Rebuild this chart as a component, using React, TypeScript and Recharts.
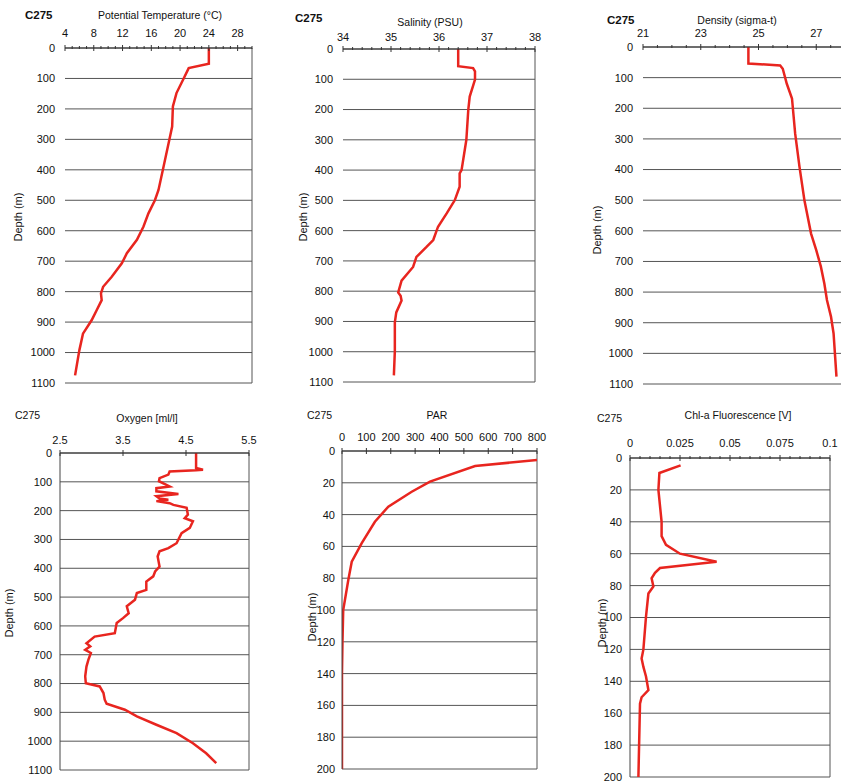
import React from "react";
import { LineChart, Line, XAxis, YAxis, CartesianGrid, ReferenceLine } from "recharts";

// station C275 profiles
const tempDepth = [0, 52, 66, 100, 148, 192, 258, 302, 390, 466, 500, 543, 587, 630, 674, 707, 751, 784, 806, 828, 861, 894, 938, 992, 1075];
const tempValue = [24.0, 24.0, 21.2, 20.5, 19.5, 19.0, 18.9, 18.5, 17.7, 17.0, 16.5, 15.6, 14.9, 14.0, 12.6, 11.9, 10.5, 9.3, 9.0, 9.1, 8.4, 7.7, 6.5, 6.0, 5.4];

const salDepth = [0, 57, 63, 74, 101, 157, 201, 300, 400, 411, 455, 499, 543, 587, 631, 654, 687, 720, 765, 804, 815, 831, 870, 903, 998, 1078];
const salValue = [36.4, 36.4, 36.71, 36.75, 36.75, 36.64, 36.61, 36.57, 36.47, 36.43, 36.43, 36.33, 36.16, 35.98, 35.88, 35.74, 35.53, 35.46, 35.22, 35.15, 35.2, 35.22, 35.11, 35.08, 35.08, 35.06];

const denDepth = [0, 54, 60, 71, 120, 168, 283, 391, 500, 609, 663, 717, 772, 826, 880, 935, 1076];
const denValue = [24.65, 24.65, 25.75, 25.84, 25.98, 26.16, 26.27, 26.42, 26.59, 26.82, 27.0, 27.16, 27.28, 27.37, 27.51, 27.6, 27.7];

const oxyDepth = [0, 52, 58, 60, 64, 75, 87, 98, 116, 122, 133, 142, 150, 158, 162, 167, 174, 180, 190, 214, 226, 237, 260, 278, 313, 330, 341, 359, 394, 411, 428, 446, 475, 486, 509, 532, 556, 573, 590, 625, 637, 660, 671, 683, 694, 718, 741, 775, 799, 810, 833, 856, 870, 891, 914, 943, 972, 1007, 1042, 1076];
const oxyValue = [4.66, 4.66, 4.77, 4.66, 4.24, 4.22, 4.08, 4.07, 4.24, 4.03, 4.03, 4.38, 4.03, 4.08, 4.22, 4.03, 4.24, 4.3, 4.51, 4.53, 4.48, 4.61, 4.56, 4.43, 4.35, 4.22, 4.08, 4.05, 4.08, 4.01, 3.98, 3.87, 3.87, 3.72, 3.69, 3.56, 3.59, 3.5, 3.4, 3.37, 3.05, 2.92, 2.98, 2.9, 2.99, 2.95, 2.92, 2.9, 2.91, 3.13, 3.19, 3.21, 3.24, 3.53, 3.72, 4.03, 4.35, 4.61, 4.82, 4.98];

const parDepth = [5.7, 9.4, 19.3, 25.6, 35, 44.5, 58, 69.6, 81, 100, 120, 140, 200];
const parValue = [800, 546, 361, 286, 190, 135, 81, 40, 26, 5, 2, 0, 0];

const chlDepth = [4.6, 9.4, 20, 40, 49, 54.5, 60, 65, 69, 72, 75.4, 80.6, 85, 99.5, 120, 125.7, 131, 137, 145.5, 150, 154, 200];
const chlValue = [0.0253, 0.0147, 0.0142, 0.0158, 0.0158, 0.018, 0.025, 0.0433, 0.015, 0.0125, 0.0108, 0.0117, 0.0092, 0.008, 0.0067, 0.0058, 0.0067, 0.008, 0.0092, 0.0058, 0.005, 0.0042];

const deepTicks = [0, 100, 200, 300, 400, 500, 600, 700, 800, 900, 1000, 1100];
const shallowTicks = [0, 20, 40, 60, 80, 100, 120, 140, 160, 180, 200];

const tempLabels = [4, 8, 12, 16, 20, 24, 28];
const salLabels = [34, 35, 36, 37, 38];
const denLabels = [21, 23, 25, 27];
const oxyLabels = [2.5, 3.5, 4.5, 5.5];
const parLabels = [0, 100, 200, 300, 400, 500, 600, 700, 800];
const chlLabels = [0, 0.025, 0.05, 0.075, 0.1];

const zip = (d: number[], v: number[]) => d.map((depth, i) => ({ depth, v: v[i] }));

const FONT = "'Liberation Sans', Arial, sans-serif";
const RED = "#e8251f";
const GRID = "#555";

const steps = (a: number, b: number, s: number) => {
  const out: number[] = [];
  for (let i = 0; a + i * s <= b + 1e-9; i++) out.push(+(a + i * s).toFixed(4));
  return out;
};

const TopTick = (props: any) => {
  const { x, y, payload, majors, gap } = props;
  const major = majors.some((m: number) => Math.abs(m - payload.value) < 1e-7);
  return (
    <g>
      <line x1={x} x2={x} y1={y - (major ? 3 : 2)} y2={y + (major ? 3 : 1)} stroke="#333" />
      {major && (
        <text x={x} y={y - gap} textAnchor="middle" fontSize={11} fill="#111" fontFamily={FONT}>
          {payload.value}
        </text>
      )}
    </g>
  );
};

type PanelProps = {
  rows: { depth: number; v: number }[];
  rect: [number, number, number, number];
  xDomain: [number, number];
  majors: number[];
  minorStep: number;
  yTicks: number[];
  leftAxis: boolean;
  gap: number;
  yGap: number;
};

const Panel = ({ rows, rect, xDomain, majors, minorStep, yTicks, leftAxis, gap, yGap }: PanelProps) => {
  const [x0, y0, x1, y1] = rect;
  const padL = 60;
  const padT = 30;
  const padR = 16;
  const w = x1 - x0 + padL + padR;
  const h = y1 - y0 + padT + 6;
  const ticks = steps(xDomain[0], xDomain[1], minorStep);
  return (
    <div style={{ position: "absolute", left: x0 - padL, top: y0 - padT }}>
      <LineChart
        width={w}
        height={h}
        data={rows}
        layout="vertical"
        margin={{ top: 0, left: 0, right: padR, bottom: 6 }}
      >
        <CartesianGrid vertical={false} stroke={GRID} />
        <XAxis
          type="number"
          orientation="top"
          domain={xDomain}
          ticks={ticks}
          interval={0}
          height={padT}
          allowDataOverflow
          axisLine={{ stroke: "#333" }}
          tickLine={false}
          tickSize={0}
          tickMargin={0}
          tick={<TopTick majors={majors} gap={gap} />}
        />
        <YAxis
          type="number"
          dataKey="depth"
          domain={[yTicks[0], yTicks[yTicks.length - 1]]}
          ticks={yTicks}
          interval={0}
          width={padL}
          axisLine={leftAxis ? { stroke: "#444" } : false}
          tickLine={false}
          tickSize={0}
          tickMargin={yGap}
          tick={{ fontSize: 11, fill: "#111", fontFamily: FONT }}
        />
        <ReferenceLine x={xDomain[1]} stroke={GRID} />
        <Line
          type="linear"
          dataKey="v"
          stroke={RED}
          strokeWidth={2.5}
          dot={false}
          isAnimationActive={false}
        />
      </LineChart>
    </div>
  );
};

const Txt = ({ x, y, children, bold, size = 10.5, anchor = "middle" }: any) => (
  <div
    style={{
      position: "absolute",
      left: x,
      top: y,
      transform: anchor === "middle" ? "translate(-50%, -50%)" : "translate(0, -50%)",
      fontSize: size,
      fontWeight: bold ? "bold" : "normal",
      color: "#111",
      whiteSpace: "nowrap",
      fontFamily: FONT,
    }}
  >
    {children}
  </div>
);

const Depth = ({ x, y }: { x: number; y: number }) => (
  <div
    style={{
      position: "absolute",
      left: x,
      top: y,
      transform: "translate(-50%, -50%) rotate(-90deg)",
      fontSize: 11,
      color: "#111",
      whiteSpace: "nowrap",
      fontFamily: FONT,
    }}
  >
    Depth (m)
  </div>
);

export default function App() {
  return (
    <div
      style={{
        position: "absolute",
        left: 0,
        top: 0,
        width: 841,
        height: 783,
        overflow: "hidden",
        background: "#fff",
        fontFamily: FONT,
      }}
    >
      <Panel rows={zip(tempDepth, tempValue)} rect={[65, 48, 252, 383]} xDomain={[4, 30]} majors={tempLabels} minorStep={1} yTicks={deepTicks} leftAxis={false} gap={11} yGap={10} />
      <Panel rows={zip(salDepth, salValue)} rect={[343, 49, 535, 382]} xDomain={[34, 38]} majors={salLabels} minorStep={0.2} yTicks={deepTicks} leftAxis={false} gap={8} yGap={10} />
      <Panel rows={zip(denDepth, denValue)} rect={[643, 47, 874, 384]} xDomain={[21, 29]} majors={denLabels} minorStep={0.5} yTicks={deepTicks} leftAxis={false} gap={10} yGap={10} />
      <Panel rows={zip(oxyDepth, oxyValue)} rect={[60, 453, 249, 770]} xDomain={[2.5, 5.5]} majors={oxyLabels} minorStep={1} yTicks={deepTicks} leftAxis gap={9} yGap={8} />
      <Panel rows={zip(parDepth, parValue)} rect={[342, 451, 537, 769]} xDomain={[0, 800]} majors={parLabels} minorStep={100} yTicks={shallowTicks} leftAxis gap={10} yGap={7} />
      <Panel rows={zip(chlDepth, chlValue)} rect={[630, 458, 830, 777]} xDomain={[0, 0.1]} majors={chlLabels} minorStep={0.005} yTicks={shallowTicks} leftAxis gap={11} yGap={8} />

      <Txt x={25} y={15} bold size={11.5} anchor="left">C275</Txt>
      <Txt x={160} y={15}>Potential Temperature (°C)</Txt>
      <Txt x={295} y={18} bold size={11.5} anchor="left">C275</Txt>
      <Txt x={430} y={22}>Salinity (PSU)</Txt>
      <Txt x={607} y={20} bold size={11.5} anchor="left">C275</Txt>
      <Txt x={737} y={20}>Density (sigma-t)</Txt>

      <Txt x={15} y={415} anchor="left">C275</Txt>
      <Txt x={147} y={418}>Oxygen [ml/l]</Txt>
      <Txt x={307} y={415} anchor="left">C275</Txt>
      <Txt x={437} y={415}>PAR</Txt>
      <Txt x={597} y={418} anchor="left">C275</Txt>
      <Txt x={738} y={415}>Chl-a Fluorescence [V]</Txt>

      <Depth x={18} y={217} />
      <Depth x={303} y={217} />
      <Depth x={597} y={230} />
      <Depth x={9} y={613} />
      <Depth x={312} y={617} />
      <Depth x={602} y={623} />
    </div>
  );
}
